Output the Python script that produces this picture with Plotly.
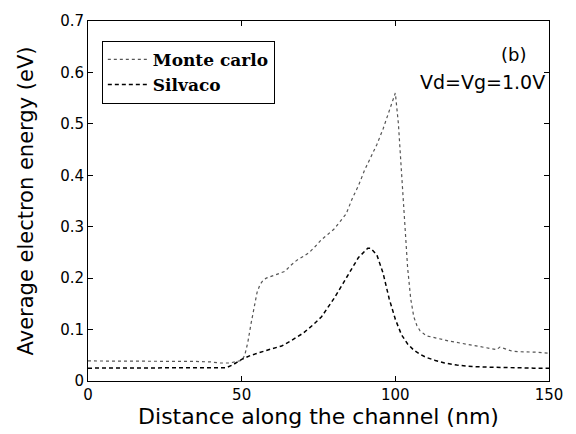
import plotly.graph_objects as go

mc_x = [0, 5, 10, 15, 20, 25, 30, 35, 40, 43, 46, 48, 50, 51, 52, 53, 54, 55, 56, 57, 58,
        60, 62, 64, 66, 68, 70, 72, 74, 76, 78, 80, 82, 84, 86, 88, 90, 92, 94, 96, 98, 100,
        101, 102, 103, 104, 105, 106, 107, 108, 110, 112, 114, 116, 118, 120, 122, 124, 126,
        128, 130, 132, 133, 134, 136, 138, 140, 142, 144, 146, 148, 150]
mc_y = [0.039, 0.039, 0.038, 0.038, 0.038, 0.038, 0.038, 0.038, 0.037, 0.035, 0.035, 0.037,
        0.040, 0.05, 0.075, 0.11, 0.145, 0.172, 0.188, 0.196, 0.2,
        0.204, 0.208, 0.213, 0.225, 0.235, 0.242, 0.25, 0.262, 0.275, 0.285, 0.295, 0.31,
        0.325, 0.355, 0.38, 0.41, 0.435, 0.46, 0.49, 0.525, 0.56,
        0.5, 0.40, 0.30, 0.22, 0.16, 0.125, 0.108, 0.098, 0.088, 0.085, 0.082, 0.08, 0.077,
        0.075, 0.073, 0.07, 0.069, 0.067, 0.065, 0.062, 0.061, 0.066, 0.062, 0.058, 0.057,
        0.057, 0.056, 0.056, 0.055, 0.054]

sv_x = [0, 10, 20, 30, 40, 45, 47, 50, 53, 56, 60, 63, 66, 70, 73, 76, 80, 83, 86, 88, 90,
        91, 92, 94, 96, 98, 100, 102, 104, 106, 108, 110, 113, 116, 120, 125, 130, 135, 140,
        145, 150]
sv_y = [0.025, 0.025, 0.025, 0.025, 0.025, 0.026, 0.031, 0.042, 0.05, 0.056, 0.063, 0.068,
        0.078, 0.093, 0.108, 0.125, 0.16, 0.19, 0.22, 0.24, 0.252, 0.258, 0.258, 0.245, 0.21,
        0.16, 0.12, 0.09, 0.072, 0.06, 0.052, 0.046, 0.04, 0.035, 0.031, 0.028, 0.027, 0.026,
        0.025, 0.025, 0.025]

x_ticks = [0, 50, 100, 150]
y_ticks = [0, 0.1, 0.2, 0.3, 0.4, 0.5, 0.6, 0.7]
y_tick_text = ["0", "0.1", "0.2", "0.3", "0.4", "0.5", "0.6", "0.7"]

SANS = "DejaVu Sans"

fig = go.Figure()
fig.add_trace(go.Scatter(x=mc_x, y=mc_y, mode="lines", name="<b>Monte carlo</b>",
                         line=dict(color="#555555", width=1.2, dash="dot")))
fig.add_trace(go.Scatter(x=sv_x, y=sv_y, mode="lines", name="<b>Silvaco</b>",
                         line=dict(color="black", width=1.5, dash="4px,3px")))

fig.add_annotation(x=138.3, y=0.634, text="(b)", showarrow=False,
                   font=dict(family=SANS, size=18, color="black"))
fig.add_annotation(x=149.3, y=0.582, text="Vd=Vg=1.0V", showarrow=False, xanchor="right",
                   font=dict(family=SANS, size=19, color="black"))

axis_common = dict(showline=True, linecolor="black", linewidth=1, mirror="ticks",
                   ticks="inside", ticklen=5, tickcolor="black", showgrid=False,
                   zeroline=False, tickfont=dict(family=SANS, size=15, color="black"))

fig.update_xaxes(range=[0, 150], tickvals=x_ticks,
                 title=dict(text="Distance along the channel (nm)",
                            font=dict(family=SANS, size=22, color="black"), standoff=3),
                 **axis_common)
fig.update_yaxes(range=[0, 0.7], tickvals=y_ticks, ticktext=y_tick_text,
                 title=dict(text="Average electron energy (eV)",
                            font=dict(family=SANS, size=21, color="black"), standoff=20),
                 **axis_common)

fig.update_layout(
    width=576, height=434,
    margin=dict(l=88, r=27, t=13, b=52),
    plot_bgcolor="white", paper_bgcolor="white",
    showlegend=True,
    legend=dict(x=0.03, y=0.945, xanchor="left", yanchor="top",
                bordercolor="black", borderwidth=1, bgcolor="white",
                font=dict(family="DejaVu Serif", size=17, color="black"),
                tracegroupgap=0, itemwidth=40),
)

fig.write_html("out.html")
